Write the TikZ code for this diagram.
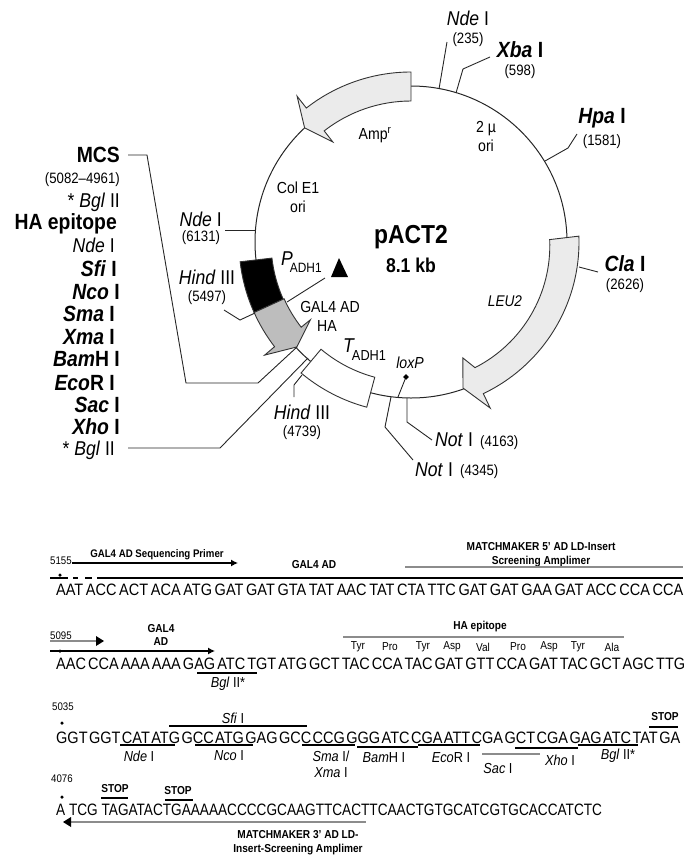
\documentclass[tikz,border=0pt]{standalone}
\usepackage{fontspec}
\setmainfont{Liberation Sans}[FakeStretch=0.88]
\usetikzlibrary{arrows.meta, positioning, calc}
\definecolor{cassette}{HTML}{EBEBEB}
\definecolor{hagray}{HTML}{BDBDBD}
\definecolor{bargray}{HTML}{8C8C8C}
\newcommand{\fs}[1]{\fontsize{#1}{#1}\selectfont}
\newcommand{\seqrow}[2]{\makebox[#1][s]{\spaceskip=0.5pt plus 1fil #2}}

\begin{document}
\begin{tikzpicture}[x=1pt, y=1pt,
  site/.style={inner sep=0pt, font=\fs{20}},
  sitebold/.style={inner sep=0pt, font=\fs{22}\bfseries},
  sitepos/.style={inner sep=0pt, font=\fs{15}},
  inlabel/.style={inner sep=0pt, font=\fs{16}, align=center},
  codon/.style={inner sep=0pt, font=\fs{16.5}},
  numlabel/.style={inner sep=0pt, font=\fs{11}},
  seqbold/.style={inner sep=0pt, font=\fs{11.5}\bfseries, align=center},
  aminoacid/.style={inner sep=0pt, font=\fs{11.5}},
  cutlabel/.style={inner sep=0pt, font=\fs{14.5}},
  leader/.style={line width=0.9pt, black!85},
  outline/.style={draw=black!80, line width=0.9pt},
  seqbar/.style={line width=1.2pt, black},
  graybar/.style={line width=2.4pt, bargray},
  darrow/.style={line width=1.2pt, -{Latex[length=7pt, width=7pt]}},
  seqdot/.style={circle, fill=black, inner sep=0pt, minimum size=3.5pt}]
  \useasboundingbox (0,0) rectangle (687,-855);
  \coordinate (ctr) at (411,-242);

  % plasmid ring and cassettes
  \draw[line width=1pt, black!85] (ctr) circle[radius=156pt];
  \begin{scope}[shift={(ctr)}]
    \path[outline, fill=cassette] (90:170) arc[start angle=90, end angle=128, radius=170pt]
      -- (128:185) -- (133:156) -- (128:127) -- (128:141)
      arc[start angle=128, end angle=90, radius=141pt] -- cycle;
    \path[outline, fill=cassette] (2:168) arc[start angle=2, end angle=-64.5, radius=168pt]
      -- (-64.5:184) -- (-70.4:155) -- (-65.9:127) -- (-63:141)
      arc[start angle=-63, end angle=2.5, radius=137pt] -- cycle;
    \path[outline, fill=black] (186.6:172) arc[start angle=186.6, end angle=204.2, radius=172pt]
      -- (204.2:140) arc[start angle=204.2, end angle=186.6, radius=140pt] -- cycle;
    \path[outline, fill=hagray] (204.2:172) arc[start angle=204.2, end angle=217.5, radius=172pt]
      -- (217.7:185) -- (222.6:155) -- (217.7:127) -- (217.8:139)
      arc[start angle=217.8, end angle=204.2, radius=140pt] -- cycle;
    \path[outline, fill=white] (230:171) arc[start angle=230, end angle=255, radius=171pt]
      -- (255:140) arc[start angle=255, end angle=230, radius=140pt] -- cycle;
  \end{scope}

  % centre and inner labels
  \node[inner sep=0pt, font=\fs{26}\bfseries] (plasmid) at (411,-237) {pACT2};
  \node[inner sep=0pt, font=\fs{20}\bfseries, below=9pt of plasmid] (size) {8.1 kb};
  \node[inlabel] (amp) at (375,-135) {Amp\textsuperscript{r}};
  \node[inlabel] (twomu) at (486,-136) {2 µ\\[3pt]ori};
  \node[inlabel] (cole) at (298,-197) {Col E1\\[3pt]ori};
  \node[inlabel, font=\fs{15.5}\itshape] (leu) at (505,-301) {LEU2};
  \node[inlabel] (gal) at (330,-307) {GAL4 AD};
  \node[inlabel, below=7pt of gal, xshift=-3pt] (ha) {HA};
  \node[inlabel, font=\fs{13.5}, anchor=base west] (padh) at (281,-272) {\raisebox{7pt}{\fs{20}\textit{P}}\kern-3pt ADH1};
  \node[inlabel, font=\fs{14.5}, anchor=base west] (tadh) at (343,-360) {\raisebox{8pt}{\fs{20}\textit{T}}\kern-3pt ADH1};
  \node[inlabel, font=\fs{16}\itshape] (lox) at (410,-363) {loxP};
  \fill (331,-277) -- (339,-258) -- (348,-277) -- cycle;
  \coordinate (triend) at (325,-278);
  \draw[leader] (triend) -- (287,-302);
  \node[inner sep=2pt, fill=black, rotate=45] (loxmark) at (406,-377) {};
  \coordinate (loxfoot) at (398,-397);
  \draw[leader] (loxmark) -- (loxfoot);

  % sites on the ring
  \node[site] (ndeA) at (468,-18) {\textit{Nde} I};
  \node[sitepos, below=7pt of ndeA] (ndeApos) {(235)};
  \coordinate (ndeAt) at (447,-42);
  \coordinate (ndeAr) at (439,-89);
  \draw[leader] (ndeAt) -- (ndeAr);

  \node[sitebold] (xba) at (520,-50) {\textit{Xba} I};
  \node[sitepos, below=6pt of xba] (xbapos) {(598)};
  \coordinate (xbar) at (456,-93);
  \draw[leader] (490,-57) -- (463,-69) -- (xbar);

  \node[sitebold] (hpa) at (602,-118) {\textit{Hpa} I};
  \node[sitepos, below=6pt of hpa] (hpapos) {(1581)};
  \coordinate (hpar) at (545,-161);
  \draw[leader] (577,-134) -- (568,-148) -- (hpar);

  \node[sitebold] (cla) at (625,-264) {\textit{Cla} I};
  \node[sitepos, below=6pt of cla] (clapos) {(2626)};
  \draw[leader] (579,-267) -- (598,-272);

  \node[site, anchor=east] (ndeB) at (222,-219) {\textit{Nde} I};
  \node[sitepos] (ndeBpos) at (201,-238) {(6131)};
  \draw[leader] (225,-230) -- (255,-230);

  \node[site] (hindA) at (207,-277) {\textit{Hind} III};
  \node[sitepos, below=6pt of hindA] (hindApos) {(5497)};
  \draw[leader] (224,-310) -- (240,-320) -- (255,-313);

  \node[site] (hindB) at (302,-412) {\textit{Hind} III};
  \node[sitepos, below=6pt of hindB] (hindBpos) {(4739)};
  \draw[leader] (302,-375) -- (294,-385) -- (294,-397);

  \node[site, anchor=west] (notA) at (435,-440) {\textit{Not} I};
  \node[sitepos, anchor=west] (notApos) at (480,-443) {(4163)};
  \draw[leader] (407,-398) -- (407,-422) -- (432,-440);

  \node[site, anchor=west] (notB) at (415,-470) {\textit{Not} I};
  \node[sitepos, anchor=west] (notBpos) at (460,-472) {(4345)};
  \draw[leader] (391,-397) -- (385,-427) -- (413,-460);

  % MCS column
  \node[sitebold, anchor=east] (mcs) at (120,-155) {MCS};
  \node[sitepos, anchor=east] (mcspos) at (120,-180) {(5082–4961)};
  \node[site, anchor=east] (bglA) at (120,-202) {* \textit{Bgl} II};
  \node[sitebold, anchor=east] (haep) at (117,-224) {HA epitope};
  \node[site, anchor=east] (ndeC) at (115,-245) {\textit{Nde} I};
  \node[sitebold, anchor=east] (sfi) at (117,-269) {\textit{Sfi} I};
  \node[sitebold, anchor=east] (nco) at (120,-292) {\textit{Nco} I};
  \node[sitebold, anchor=east] (sma) at (115,-314) {\textit{Sma} I};
  \node[sitebold, anchor=east] (xma) at (115,-337) {\textit{Xma} I};
  \node[sitebold, anchor=east] (bam) at (120,-359) {\textit{Bam}H I};
  \node[sitebold, anchor=east] (eco) at (115,-383) {\textit{Eco}R I};
  \node[sitebold, anchor=east] (sac) at (120,-405) {\textit{Sac} I};
  \node[sitebold, anchor=east] (xho) at (120,-427) {\textit{Xho} I};
  \node[site, anchor=east] (bglB) at (115,-450) {* \textit{Bgl} II};
  \draw[leader] (128,-155) -- (147,-155) -- (186,-383) -- (258,-383) -- (297,-347);
  \draw[leader] (128,-448) -- (220,-448) -- (308,-358);

  % first sequence row
  \node[numlabel, anchor=west] (numA) at (50,-561) {5155};
  \node[seqbold, font=\fs{11}\bfseries] (primer) at (157,-555) {GAL4 AD Sequencing Primer};
  \draw[darrow] (72,-563) -- (238,-563);
  \node[seqbold] (galA) at (314,-565) {GAL4 AD};
  \node[seqbold] (mmA) at (541,-547) {MATCHMAKER 5' AD LD-Insert};
  \node[seqbold, below=5pt of mmA] (mmB) {Screening Amplimer};
  \draw[graybar] (405,-567) -- (683,-567);
  \draw[seqbar] (50,-578) -- (68,-578) (73,-578) -- (78,-578) (85,-578) -- (92,-578) (97,-578) -- (683,-578);
  \node[seqdot] (dotA) at (60,-575) {};
  \node[codon, anchor=west] (rowA) at (56,-590) {\seqrow{627pt}{AAT ACC ACT ACA ATG GAT GAT GTA TAT AAC TAT CTA TTC GAT GAT GAA GAT ACC CCA CCA}};

  % second sequence row
  \node[numlabel, anchor=west] (numB) at (50,-636) {5095};
  \draw[line width=2.4pt, bargray] (50,-641) -- (97,-641);
  \fill (96,-636) -- (104,-641) -- (96,-646) -- cycle;
  \node[seqbold] (galB) at (161,-635) {GAL4\\[2pt]AD};
  \draw[darrow] (50,-651) -- (215,-651);
  \node[seqdot] (dotB) at (60,-651) {};
  \node[seqbold] (haB) at (480,-627) {HA epitope};
  \draw[line width=1.4pt, bargray] (343,-637) -- (624,-637);
  \node[aminoacid] (aaA) at (358,-647) {Tyr};
  \node[aminoacid] (aaB) at (390,-647) {Pro};
  \node[aminoacid] (aaC) at (423,-647) {Tyr};
  \node[aminoacid] (aaD) at (452,-647) {Asp};
  \node[aminoacid] (aaE) at (483,-647) {Val};
  \node[aminoacid] (aaF) at (518,-647) {Pro};
  \node[aminoacid] (aaG) at (549,-647) {Asp};
  \node[aminoacid] (aaH) at (578,-647) {Tyr};
  \node[aminoacid] (aaI) at (612,-647) {Ala};
  \node[codon, anchor=west] (rowB) at (56,-664) {\seqrow{629pt}{AAC CCA AAA AAA GAG ATC TGT ATG GCT TAC CCA TAC GAT GTT CCA GAT TAC GCT AGC TTG}};
  \draw[seqbar] (197,-673) -- (257,-673);
  \node[cutlabel] (bglC) at (228,-684) {\textit{Bgl} II*};

  % third sequence row
  \node[numlabel, anchor=west] (numC) at (52,-707) {5035};
  \node[seqdot] (dotC) at (62,-723) {};
  \node[cutlabel] (sfiB) at (233,-718) {\textit{Sfi} I};
  \draw[seqbar] (169,-726) -- (307,-726);
  \node[seqbold] (stopA) at (665,-717) {STOP};
  \draw[seqbar] (649,-727) -- (678,-727);
  \node[codon, anchor=west] (rowC) at (56,-738) {\seqrow{624pt}{GGT GGT CAT ATG GCC ATG GAG GCC CCG GGG ATC CGA ATT CGA GCT CGA GAG ATC TAT GA}};
  \draw[seqbar] (120,-745) -- (175,-745) (195,-745) -- (253,-745) (302,-745) -- (355,-745);
  \draw[seqbar] (357,-747) -- (418,-747) (418,-745) -- (480,-745) (515,-748) -- (578,-748) (578,-745) -- (638,-745);
  \draw[line width=1.2pt, bargray] (482,-754) -- (540,-754);
  \node[cutlabel] (ndeD) at (139,-756) {\textit{Nde} I};
  \node[cutlabel] (ncoB) at (229,-756) {\textit{Nco} I};
  \node[cutlabel] (smaB) at (331,-756) {\textit{Sma} I/};
  \node[cutlabel] (xmaB) at (331,-773) {\textit{Xma} I};
  \node[cutlabel] (bamB) at (384,-758) {\textit{Bam}H I};
  \node[cutlabel] (ecoB) at (451,-758) {\textit{Eco}R I};
  \node[cutlabel] (sacB) at (498,-768) {\textit{Sac} I};
  \node[cutlabel] (xhoB) at (560,-760) {\textit{Xho} I};
  \node[cutlabel] (bglD) at (618,-756) {\textit{Bgl} II*};

  % fourth sequence row
  \node[numlabel, anchor=west] (numD) at (51,-779) {4076};
  \node[seqdot] (dotD) at (62,-797) {};
  \node[seqbold] (stopB) at (115,-789) {STOP};
  \draw[seqbar] (101,-798) -- (128,-798);
  \node[seqbold] (stopC) at (178,-791) {STOP};
  \draw[seqbar] (165,-800) -- (193,-800);
  \node[codon, anchor=west] (rowD) at (56,-810) {\scalebox{0.938}[1]{A TCG TAGATACTGAAAAACCCCGCAAGTTCACTTCAACTGTGCATCGTGCACCATCTC}};
  \draw[graybar] (70,-822) -- (366,-822);
  \fill (63,-822) -- (71,-817) -- (71,-827) -- cycle;
  \node[seqbold] (mmC) at (298,-835) {MATCHMAKER 3' AD LD-};
  \node[seqbold, below=5pt of mmC] (mmD) {Insert-Screening Amplimer};
\end{tikzpicture}
\end{document}
